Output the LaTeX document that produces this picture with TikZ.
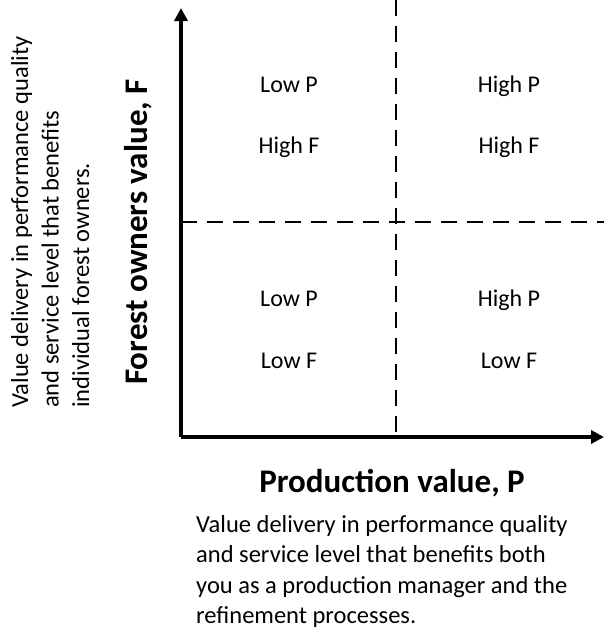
\documentclass[tikz,border=0pt]{standalone}
\usepackage{fontspec}
\setmainfont{Carlito}
\usetikzlibrary{arrows.meta}

\tikzset{
  axis/.style={line width=4pt, -{Triangle[width=13pt,length=13pt]}},
  divider/.style={line width=1.8pt, dash pattern=on 16pt off 10pt},
  cell/.style={font=\fontsize{24}{29}\selectfont, inner sep=0pt, anchor=base},
  axistitle/.style={font=\bfseries\fontsize{33}{40}\selectfont, inner sep=0pt},
  note/.style={font=\fontsize{24.5}{30.5}\selectfont, align=left, inner sep=0pt},
}

\begin{document}
\begin{tikzpicture}[x=1pt, y=-1pt]
        \useasboundingbox (0,0) rectangle (604,632);
        \coordinate (origin) at (181,437);
        \coordinate (ytip) at (181,8);
        \coordinate (xtip) at (604,437);
        \coordinate (vtop) at (396,0);
        \coordinate (vbot) at (396,437);
        \coordinate (hleft) at (181,222);
        \coordinate (hright) at (604,222);

        % Quadrant borders.
        \draw[divider] (vtop) -- (vbot);
        \draw[divider] (hleft) -- (hright);

        % Axes.
        \draw[axis] (origin) -- (ytip);
        \draw[axis] (origin) -- (xtip);

        % Quadrant labels.
        \foreach \name/\x/\y/\txt in {lpa/289/92/Low P, hfa/289/153/High F,
            hpb/509/92/High P, hfb/509/153/High F,
            lpc/289/306/Low P, lfc/289/368/Low F,
            hpd/509/306/High P, lfd/509/368/Low F}
            \node[cell] (\name) at (\x,\y) {\txt};

        \node[axistitle, anchor=base] (ptitle) at (392,492) {Production value, P};
        \node[axistitle, rotate=90] (ftitle) at (138,232) {Forest owners value, F};

        % Descriptions.
        \node[note, rotate=90, anchor=north west] (fnote) at (11,408)
            {Value delivery in performance quality\\and service level that benefits\\individual forest owners.};
        \node[note, anchor=north west] (pnote) at (196,515)
            {Value delivery in performance quality\\and service level that benefits both\\you as a production manager and the\\refinement processes.};
    \end{tikzpicture}
\end{document}
